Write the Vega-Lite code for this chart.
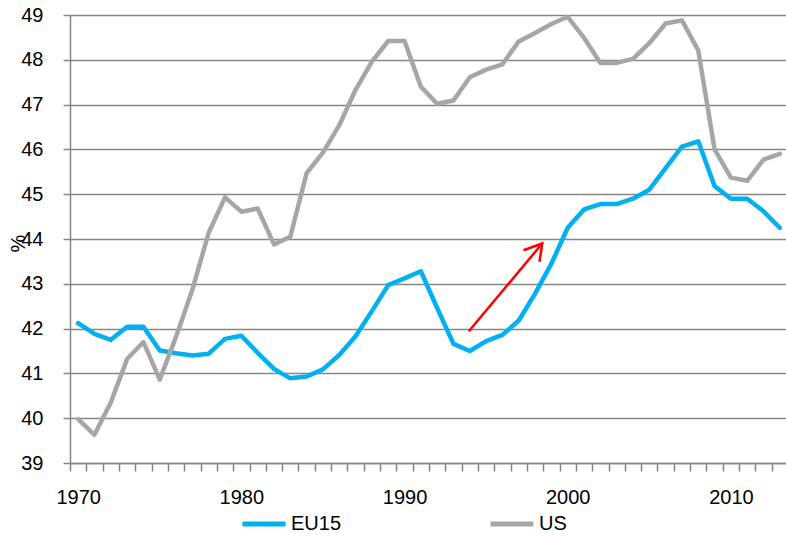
{
  "$schema": "https://vega.github.io/schema/vega-lite/v6.json",
  "width": 718,
  "height": 448,
  "autosize": "none",
  "padding": {"left": 70, "top": 15, "right": 0, "bottom": 73},
  "background": "white",
  "config": {
    "view": {"stroke": null},
    "font": "Liberation Sans",
    "axis": {"labelFont": "Liberation Sans", "titleFont": "Liberation Sans", "labelColor": "#000000", "titleColor": "#000000"},
    "legend": {"labelFont": "Liberation Sans", "labelColor": "#000000"}
  },
  "datasets": {
    "series": [
      {"year": 1970, "series": "EU15", "value": 42.12},
      {"year": 1971, "series": "EU15", "value": 41.88},
      {"year": 1972, "series": "EU15", "value": 41.75},
      {"year": 1973, "series": "EU15", "value": 42.04},
      {"year": 1974, "series": "EU15", "value": 42.04},
      {"year": 1975, "series": "EU15", "value": 41.51},
      {"year": 1976, "series": "EU15", "value": 41.45},
      {"year": 1977, "series": "EU15", "value": 41.40},
      {"year": 1978, "series": "EU15", "value": 41.44},
      {"year": 1979, "series": "EU15", "value": 41.77},
      {"year": 1980, "series": "EU15", "value": 41.84},
      {"year": 1981, "series": "EU15", "value": 41.46},
      {"year": 1982, "series": "EU15", "value": 41.10},
      {"year": 1983, "series": "EU15", "value": 40.89},
      {"year": 1984, "series": "EU15", "value": 40.93},
      {"year": 1985, "series": "EU15", "value": 41.09},
      {"year": 1986, "series": "EU15", "value": 41.41},
      {"year": 1987, "series": "EU15", "value": 41.83},
      {"year": 1988, "series": "EU15", "value": 42.39},
      {"year": 1989, "series": "EU15", "value": 42.97},
      {"year": 1990, "series": "EU15", "value": 43.12},
      {"year": 1991, "series": "EU15", "value": 43.28},
      {"year": 1992, "series": "EU15", "value": 42.46},
      {"year": 1993, "series": "EU15", "value": 41.66},
      {"year": 1994, "series": "EU15", "value": 41.50},
      {"year": 1995, "series": "EU15", "value": 41.72},
      {"year": 1996, "series": "EU15", "value": 41.86},
      {"year": 1997, "series": "EU15", "value": 42.18},
      {"year": 1998, "series": "EU15", "value": 42.78},
      {"year": 1999, "series": "EU15", "value": 43.45},
      {"year": 2000, "series": "EU15", "value": 44.25},
      {"year": 2001, "series": "EU15", "value": 44.66},
      {"year": 2002, "series": "EU15", "value": 44.78},
      {"year": 2003, "series": "EU15", "value": 44.78},
      {"year": 2004, "series": "EU15", "value": 44.90},
      {"year": 2005, "series": "EU15", "value": 45.10},
      {"year": 2006, "series": "EU15", "value": 45.58},
      {"year": 2007, "series": "EU15", "value": 46.06},
      {"year": 2008, "series": "EU15", "value": 46.18},
      {"year": 2009, "series": "EU15", "value": 45.18},
      {"year": 2010, "series": "EU15", "value": 44.90},
      {"year": 2011, "series": "EU15", "value": 44.90},
      {"year": 2012, "series": "EU15", "value": 44.62},
      {"year": 2013, "series": "EU15", "value": 44.25},
      {"year": 1970, "series": "US", "value": 39.98},
      {"year": 1971, "series": "US", "value": 39.63},
      {"year": 1972, "series": "US", "value": 40.35},
      {"year": 1973, "series": "US", "value": 41.32},
      {"year": 1974, "series": "US", "value": 41.70},
      {"year": 1975, "series": "US", "value": 40.86},
      {"year": 1976, "series": "US", "value": 41.82},
      {"year": 1977, "series": "US", "value": 42.87},
      {"year": 1978, "series": "US", "value": 44.14},
      {"year": 1979, "series": "US", "value": 44.93},
      {"year": 1980, "series": "US", "value": 44.61},
      {"year": 1981, "series": "US", "value": 44.68},
      {"year": 1982, "series": "US", "value": 43.88},
      {"year": 1983, "series": "US", "value": 44.05},
      {"year": 1984, "series": "US", "value": 45.47},
      {"year": 1985, "series": "US", "value": 45.93},
      {"year": 1986, "series": "US", "value": 46.54},
      {"year": 1987, "series": "US", "value": 47.33},
      {"year": 1988, "series": "US", "value": 47.96},
      {"year": 1989, "series": "US", "value": 48.42},
      {"year": 1990, "series": "US", "value": 48.42},
      {"year": 1991, "series": "US", "value": 47.40},
      {"year": 1992, "series": "US", "value": 47.02},
      {"year": 1993, "series": "US", "value": 47.09},
      {"year": 1994, "series": "US", "value": 47.61},
      {"year": 1995, "series": "US", "value": 47.78},
      {"year": 1996, "series": "US", "value": 47.90},
      {"year": 1997, "series": "US", "value": 48.41},
      {"year": 1998, "series": "US", "value": 48.60},
      {"year": 1999, "series": "US", "value": 48.80},
      {"year": 2000, "series": "US", "value": 48.96},
      {"year": 2001, "series": "US", "value": 48.49},
      {"year": 2002, "series": "US", "value": 47.93},
      {"year": 2003, "series": "US", "value": 47.93},
      {"year": 2004, "series": "US", "value": 48.02},
      {"year": 2005, "series": "US", "value": 48.37},
      {"year": 2006, "series": "US", "value": 48.81},
      {"year": 2007, "series": "US", "value": 48.88},
      {"year": 2008, "series": "US", "value": 48.21},
      {"year": 2009, "series": "US", "value": 46.00},
      {"year": 2010, "series": "US", "value": 45.37},
      {"year": 2011, "series": "US", "value": 45.30},
      {"year": 2012, "series": "US", "value": 45.77},
      {"year": 2013, "series": "US", "value": 45.90}
    ],
    "arrow": [
      {"part": "shaft", "i": 0, "year": 1993.94, "value": 41.94},
      {"part": "shaft", "i": 1, "year": 1998.44, "value": 43.90},
      {"part": "head", "i": 0, "year": 1997.29, "value": 43.75},
      {"part": "head", "i": 1, "year": 1998.44, "value": 43.90},
      {"part": "head", "i": 2, "year": 1998.27, "value": 43.49}
    ]
  },
  "layer": [
    {
      "data": {"name": "series"},
      "mark": {"type": "line", "strokeWidth": 4.5, "strokeJoin": "round", "strokeCap": "round"},
      "encoding": {
        "x": {
          "field": "year",
          "type": "quantitative",
          "scale": {"domain": [1969.5, 2013.5], "nice": false, "zero": false},
          "axis": {
            "title": null,
            "grid": false,
            "tickCount": 500,
            "values": [1969.5, 1970, 1970.5, 1971.5, 1972.5, 1973.5, 1974.5, 1975.5, 1976.5, 1977.5, 1978.5, 1979.5, 1980, 1980.5, 1981.5, 1982.5, 1983.5, 1984.5, 1985.5, 1986.5, 1987.5, 1988.5, 1989.5, 1990, 1990.5, 1991.5, 1992.5, 1993.5, 1994.5, 1995.5, 1996.5, 1997.5, 1998.5, 1999.5, 2000, 2000.5, 2001.5, 2002.5, 2003.5, 2004.5, 2005.5, 2006.5, 2007.5, 2008.5, 2009.5, 2010, 2010.5, 2011.5, 2012.5, 2013.5],
            "labelExpr": "datum.value % 10 === 0 ? format(datum.value, 'd') : ''",
            "tickOpacity": {"condition": {"test": "datum.value % 1 === 0", "value": 0}, "value": 1},
            "tickSize": 8,
            "tickWidth": 1.5,
            "tickColor": "#868686",
            "domainColor": "#868686",
            "domainWidth": 1.5,
            "labelFontSize": 20,
            "labelPadding": 16,
            "labelOverlap": false,
            "labelFlush": false,
            "labelBound": false
          }
        },
        "y": {
          "field": "value",
          "type": "quantitative",
          "scale": {"domain": [39, 49], "nice": false, "zero": false},
          "axis": {
            "title": "%",
            "format": "d",
            "values": [39, 40, 41, 42, 43, 44, 45, 46, 47, 48, 49],
            "tickCount": 100,
            "grid": true,
            "gridColor": "#868686",
            "gridWidth": 1.5,
            "tickSize": 7,
            "tickWidth": 1.5,
            "tickColor": "#868686",
            "domainColor": "#868686",
            "domainWidth": 1.5,
            "labelFontSize": 20,
            "labelPadding": 20,
            "titleFontSize": 20,
            "titleFontWeight": "normal",
            "titleAngle": -90,
            "titleX": -52,
            "titleY": 228,
            "titleAlign": "center",
            "titleBaseline": "middle"
          }
        },
        "color": {
          "field": "series",
          "type": "nominal",
          "scale": {"domain": ["EU15", "US"], "range": ["#00B0F0", "#A6A6A6"]},
          "legend": {
            "title": null,
            "orient": "none",
            "direction": "horizontal",
            "legendX": 170,
            "legendY": 485,
            "symbolType": "stroke",
            "symbolSize": 1849,
            "symbolStrokeWidth": 5,
            "labelFontSize": 20,
            "labelOffset": 3,
            "columnPadding": 138,
            "padding": 0
          }
        }
      }
    },
    {
      "data": {"name": "arrow"},
      "mark": {"type": "line", "color": "#FF0000", "strokeWidth": 2.5},
      "encoding": {
        "x": {"field": "year", "type": "quantitative"},
        "y": {"field": "value", "type": "quantitative"},
        "detail": {"field": "part", "type": "nominal"},
        "order": {"field": "i", "type": "quantitative"}
      }
    }
  ]
}
